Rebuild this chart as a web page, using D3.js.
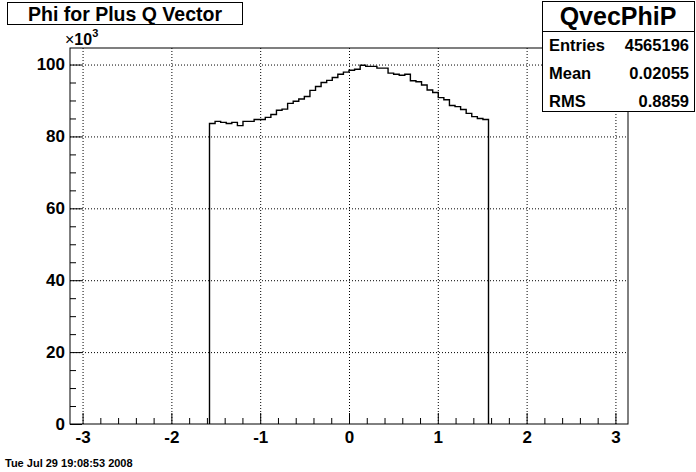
<!DOCTYPE html>
<html>
<head>
<meta charset="utf-8">
<script src="https://cdn.jsdelivr.net/npm/d3@7"></script>
<style>
body { margin: 0; background: #fff; }
svg text { font-family: "Liberation Sans", Arial, Helvetica, sans-serif; font-weight: bold; fill: #000; }
.grid line { stroke: #000; stroke-dasharray: 1,2; }
.grid path { display: none; }
</style>
</head>
<body>
<svg id="chart" width="696" height="472"></svg>
<script>
// histogram QvecPhiP, 100 bins on [-pi, pi], only [-pi/2, pi/2] filled (values in 10^3)
var xRange = [-Math.PI, Math.PI];
var filledRange = [-Math.PI / 2, Math.PI / 2];
var counts = [
  83.6, 84.2, 83.9, 83.6, 83.9, 83.0, 84.2, 84.2, 84.7, 84.7,
  85.3, 86.1, 87.3, 87.6, 89.2, 89.8, 90.4, 91.1, 92.8, 93.9,
  95.0, 95.6, 96.4, 97.3, 97.9, 98.4, 98.7, 99.8, 99.5, 99.5,
  99.0, 99.0, 97.6, 97.3, 97.0, 97.3, 95.5, 95.2, 94.3, 92.9,
  92.2, 90.8, 90.2, 88.6, 88.3, 87.5, 86.4, 85.5, 85.0, 84.7
];
var xTicks = [-3, -2, -1, 0, 1, 2, 3];
var xMinor = [-2.8, -2.6, -2.4, -2.2, -1.8, -1.6, -1.4, -1.2, -0.8, -0.6, -0.4, -0.2,
              0.2, 0.4, 0.6, 0.8, 1.2, 1.4, 1.6, 1.8, 2.2, 2.4, 2.6, 2.8];
var yTicks = [0, 20, 40, 60, 80, 100];
var yMinor = [5, 10, 15, 25, 30, 35, 45, 50, 55, 65, 70, 75, 85, 90, 95];
var yMax = 104.6;

var title = "Phi for Plus Q Vector";
var statName = "QvecPhiP";
var statLabels = ["Entries", "Mean", "RMS"];
var statValues = ["4565196", "0.02055", "0.8859"];
var dateText = "Tue Jul 29 19:08:53 2008";

var frame = { left: 70, right: 628, top: 48, bottom: 424 };
var svg = d3.select("#chart");

var x = d3.scaleLinear().domain(xRange).range([frame.left, frame.right]);
var y = d3.scaleLinear().domain([0, yMax]).range([frame.bottom, frame.top]);
var plain = function(d) { return String(d); };

// dotted grid
svg.append("g").attr("class", "grid")
  .attr("transform", "translate(0," + frame.bottom + ")")
  .call(d3.axisBottom(x).tickValues(xTicks).tickSize(-(frame.bottom - frame.top)).tickFormat(""));
svg.append("g").attr("class", "grid")
  .attr("transform", "translate(" + frame.left + ",0)")
  .call(d3.axisLeft(y).tickValues(yTicks.slice(1)).tickSize(-(frame.right - frame.left)).tickFormat(""));

// histogram outline
var binW = (filledRange[1] - filledRange[0]) / counts.length;
var pts = [[x(filledRange[0]), y(0)]];
counts.forEach(function(c, i) {
  var x0 = filledRange[0] + i * binW;
  pts.push([x(x0), y(c)]);
  pts.push([x(x0 + binW), y(c)]);
});
pts.push([x(filledRange[1]), y(0)]);
svg.append("path")
  .attr("d", d3.line()(pts))
  .attr("fill", "none")
  .attr("stroke", "#000")
  .attr("stroke-width", 1.4);

// frame
svg.append("rect")
  .attr("x", frame.left).attr("y", frame.top)
  .attr("width", frame.right - frame.left).attr("height", frame.bottom - frame.top)
  .attr("fill", "none").attr("stroke", "#000");

// axes
function styleAxis(g) {
  g.select(".domain").remove();
  g.selectAll("line").attr("stroke", "#000");
  g.selectAll("text").style("font-size", "17px");
}
svg.append("g")
  .attr("transform", "translate(0," + frame.bottom + ")")
  .call(d3.axisBottom(x).tickValues(xTicks).tickSize(-11).tickPadding(7).tickFormat(plain))
  .call(styleAxis);
svg.append("g")
  .attr("transform", "translate(0," + frame.bottom + ")")
  .call(d3.axisBottom(x).tickValues(xMinor).tickSize(-6).tickFormat(""))
  .call(styleAxis);
svg.append("g")
  .attr("transform", "translate(" + frame.left + ",0)")
  .call(d3.axisLeft(y).tickValues(yTicks).tickSize(-12).tickPadding(5).tickFormat(plain))
  .call(styleAxis);
svg.append("g")
  .attr("transform", "translate(" + frame.left + ",0)")
  .call(d3.axisLeft(y).tickValues(yMinor).tickSize(-6).tickFormat(""))
  .call(styleAxis);

// x10^3 exponent
var expo = svg.append("text").attr("x", 65).attr("y", 45).style("font-size", "16px");
expo.append("tspan").text("\u00d7").style("font-weight", "normal");
expo.append("tspan").text("10");
expo.append("tspan").text("3").attr("dy", -8).style("font-size", "11px");

// title box
svg.append("rect").attr("x", 7.5).attr("y", 2.5).attr("width", 235).attr("height", 22)
  .attr("fill", "#fff").attr("stroke", "#000");
svg.append("text").attr("x", 125).attr("y", 21).attr("text-anchor", "middle")
  .style("font-size", "19.5px").text(title);

// stats box
var sb = { x: 542.5, y: 1.5, w: 152, h: 110 };
svg.append("rect").attr("x", sb.x).attr("y", sb.y).attr("width", sb.w).attr("height", sb.h)
  .attr("fill", "#fff").attr("stroke", "#000");
svg.append("line").attr("x1", sb.x).attr("x2", sb.x + sb.w).attr("y1", 31.5).attr("y2", 31.5)
  .attr("stroke", "#000");
svg.append("text").attr("x", 618).attr("y", 25).attr("text-anchor", "middle")
  .style("font-size", "25px").text(statName);
statLabels.forEach(function(lab, i) {
  var by = 51 + i * 28;
  svg.append("text").attr("x", 549).attr("y", by).style("font-size", "16.5px").text(lab);
  svg.append("text").attr("x", 689).attr("y", by).attr("text-anchor", "end")
    .style("font-size", "16.5px").text(statValues[i]);
});

// date stamp
svg.append("text").attr("x", 5).attr("y", 467).style("font-size", "11px").text(dateText);
</script>
</body>
</html>
